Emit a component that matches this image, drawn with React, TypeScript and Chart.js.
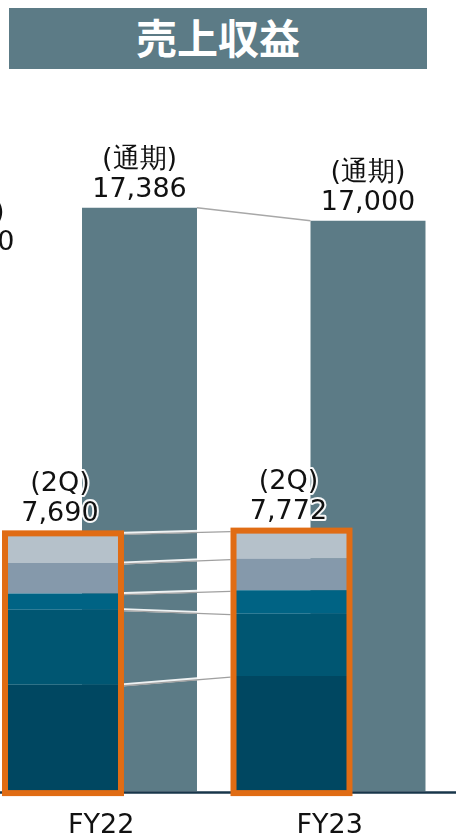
import React, { useEffect, useRef } from "react";
import { Chart, registerables } from "chart.js";

Chart.register(...registerables);

const title = "売上収益";
const categories = ["FY22", "FY23"];
const fullYearTag = "(通期)";
const fullYearValues = [17386, 17000];
const fullYearLabels = ["17,386", "17,000"];
const halfTag = "(2Q)";
const halfTotalLabels = ["7,690", "7,772"];
// 2Q stacked segments, bottom to top
const segBottom = [3182, 3439];
const segSecond = [2237, 1861];
const segThird = [477, 695];
const segFourth = [913, 945];
const segTop = [881, 832];
// partially visible full-year label of the preceding panel (cut at the left edge)
const prevTag = "(通期)";
const prevValue = 15800;
const prevLabel = "15,800";

const SLATE = "#5c7b86";
const segColors = ["#004761", "#005672", "#006384", "#8599ab", "#b5c1ca"];
const ORANGE = "#e06c14";
const AXIS = "#18364a";
const FONT = "27px 'DejaVu Sans', Verdana, sans-serif";

const overlayPlugin = {
  id: "overlay",
  afterDatasetsDraw(chart: any) {
    const ctx = chart.ctx;
    const xs = chart.scales.x;
    const ys = chart.scales.y;
    const segMetas = [0, 1, 2, 3, 4].map((i) => chart.getDatasetMeta(i));
    const fullMeta = chart.getDatasetMeta(5);
    const base = ys.getPixelForValue(0);

    ctx.save();
    // baseline
    ctx.strokeStyle = AXIS;
    ctx.lineWidth = 2.5;
    ctx.beginPath();
    ctx.moveTo(0, base + 1);
    ctx.lineTo(chart.width, base + 1);
    ctx.stroke();

    // full-year connector
    const f0 = fullMeta.data[0].getProps(["x", "y", "width"], true);
    const f1 = fullMeta.data[1].getProps(["x", "y", "width"], true);
    ctx.strokeStyle = "#a8a8a8";
    ctx.lineWidth = 1.5;
    ctx.beginPath();
    ctx.moveTo(f0.x + f0.width / 2, f0.y);
    ctx.lineTo(f1.x - f1.width / 2, f1.y);
    ctx.stroke();

    // 2Q connectors
    const h0 = segMetas.map((m: any) => m.data[0].getProps(["x", "y", "width"], true));
    const h1 = segMetas.map((m: any) => m.data[1].getProps(["x", "y", "width"], true));
    for (let s = 0; s < 5; s++) {
      const x0 = h0[s].x + h0[s].width / 2 + 3;
      const x1 = h1[s].x - h1[s].width / 2 - 3;
      ctx.lineWidth = 3;
      ctx.strokeStyle = "rgba(255,255,255,0.9)";
      ctx.beginPath();
      ctx.moveTo(x0, h0[s].y);
      ctx.lineTo(x1, h1[s].y);
      ctx.stroke();
      ctx.lineWidth = 1.3;
      ctx.strokeStyle = "#a0a0a0";
      ctx.beginPath();
      ctx.moveTo(x0, h0[s].y + 1);
      ctx.lineTo(x1, h1[s].y + 1);
      ctx.stroke();
    }

    // orange outlines around the 2Q stacks
    ctx.strokeStyle = ORANGE;
    ctx.lineWidth = 6;
    for (let i = 0; i < categories.length; i++) {
      const top = (i === 0 ? h0 : h1)[4];
      const w = top.width;
      ctx.strokeRect(top.x - w / 2, top.y, w, base + 1.5 - top.y);
    }

    // labels
    ctx.font = FONT;
    ctx.textAlign = "center";
    ctx.textBaseline = "alphabetic";
    ctx.fillStyle = "#111";
    for (let i = 0; i < categories.length; i++) {
      const f = fullMeta.data[i].getProps(["x", "y"], true);
      ctx.fillText(fullYearTag, f.x, f.y - 41);
      ctx.fillText(fullYearLabels[i], f.x, f.y - 11);
    }
    // previous panel's label (cut off)
    const px = xs.getPixelForValue(-0.587);
    const py = ys.getPixelForValue(prevValue);
    ctx.fillText(prevTag, px, py - 41);
    ctx.fillText(prevLabel, px, py - 11);

    // 2Q labels with white halo
    ctx.lineJoin = "round";
    for (let i = 0; i < categories.length; i++) {
      const top = (i === 0 ? h0 : h1)[4];
      const lx = top.x - 3;
      const lines: [string, number][] = [
        [halfTag, top.y - 42],
        [halfTotalLabels[i], top.y - 12],
      ];
      for (const [t, y] of lines) {
        ctx.strokeStyle = "rgba(255,255,255,0.95)";
        ctx.lineWidth = 4;
        ctx.strokeText(t, lx, y);
        ctx.fillStyle = "#111";
        ctx.fillText(t, lx, y);
      }
    }
    ctx.restore();
  },
};

export default function App() {
  const ref = useRef<HTMLCanvasElement | null>(null);

  useEffect(() => {
    if (!ref.current) return;
    const segs = [segBottom, segSecond, segThird, segFourth, segTop];
    const chart = new Chart(ref.current, {
      type: "bar",
      data: {
        labels: categories,
        datasets: [
          ...segs.map((d, i) => ({
            label: "seg" + i,
            data: d,
            stack: "half",
            order: 1,
            backgroundColor: segColors[i],
            borderWidth: 0,
            barPercentage: 1.516,
            categoryPercentage: 0.6696,
          })),
          {
            label: "full",
            data: fullYearValues,
            stack: "full",
            order: 2,
            backgroundColor: SLATE,
            borderWidth: 0,
            barPercentage: 1.503,
            categoryPercentage: 0.6696,
          },
        ],
      },
      options: {
        responsive: false,
        animation: false,
        devicePixelRatio: 1,
        layout: { padding: { left: 37, right: 26, top: 120, bottom: 0 } },
        plugins: { legend: { display: false }, tooltip: { enabled: false }, title: { display: false } },
        scales: {
          x: {
            stacked: true,
            grid: { display: false, drawTicks: false },
            border: { display: false },
            ticks: {
              color: "#111",
              padding: 18,
              font: { family: "'DejaVu Sans', Verdana, sans-serif", size: 27 },
            },
          },
          y: {
            stacked: true,
            display: false,
            min: 0,
            max: 20000,
          },
        },
      },
      plugins: [overlayPlugin],
    });
    return () => chart.destroy();
  }, []);

  return (
    <div
      style={{
        position: "fixed",
        left: 0,
        top: 0,
        width: 456,
        height: 838,
        overflow: "hidden",
        background: "#fff",
      }}
    >
      <canvas
        ref={ref}
        width={520}
        height={860}
        style={{ position: "absolute", left: -50, top: 0, width: 520, height: 860 }}
      />
      <div
        style={{
          position: "absolute",
          left: 9,
          top: 8,
          width: 418,
          height: 61,
          background: SLATE,
          color: "#fff",
          fontFamily: "'Noto Sans CJK JP', sans-serif",
          fontWeight: 700,
          fontSize: 41,
          lineHeight: "56px",
          textAlign: "center",
          overflow: "hidden",
        }}
      >
        {title}
      </div>
    </div>
  );
}
